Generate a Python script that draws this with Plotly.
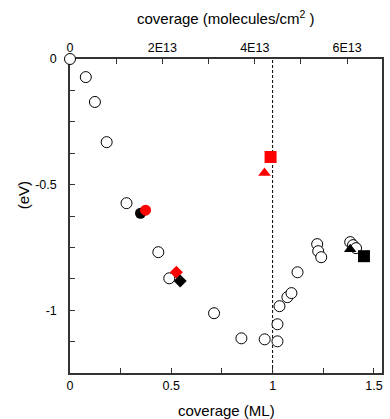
import plotly.graph_objects as go

# ---- data (coverage in ML, energy in eV) ----
open_x = [0.0, 0.078, 0.123, 0.181, 0.279, 0.436, 0.49, 0.711, 0.846, 0.961, 1.024,
          1.024, 1.034, 1.073, 1.093, 1.123, 1.22, 1.225, 1.24, 1.383, 1.397, 1.412]
open_y = [0.0, -0.072, -0.171, -0.331, -0.574, -0.769, -0.873, -1.012, -1.112, -1.116, -1.124,
          -1.056, -0.984, -0.948, -0.932, -0.849, -0.737, -0.765, -0.789, -0.729, -0.741, -0.753]

black_circle_x, black_circle_y = [0.348], [-0.614]
red_circle_x, red_circle_y = [0.373], [-0.602]
red_diamond_x, red_diamond_y = [0.525], [-0.849]
black_diamond_x, black_diamond_y = [0.544], [-0.884]
red_square_x, red_square_y = [0.99], [-0.39]
red_triangle_x, red_triangle_y = [0.96], [-0.454]
black_triangle_x, black_triangle_y = [1.383], [-0.757]
black_square_x, black_square_y = [1.451], [-0.785]

x_ticks = [0, 0.5, 1.0, 1.5]
x_ticktext = ["0", "0.5", "1", "1.5"]
x_minor = [0.25, 0.75, 1.25]
y_ticks = [0, -0.5, -1.0]
y_ticktext = ["0", "-0.5", "-1"]
y_minor = [-0.125, -0.25, -0.375, -0.625, -0.75, -0.875, -1.125]
top_ticks = [0, 2e13, 4e13, 6e13]
top_ticktext = ["0", "2E13", "4E13", "6E13"]
top_minor = [1e13, 3e13, 5e13]

ML_TO_MOLEC = 4.387e13
X_MAX = 1.54

fig = go.Figure()

fig.add_trace(go.Scatter(x=open_x, y=open_y, mode="markers", cliponaxis=False,
                         marker=dict(symbol="circle", size=11, color="white",
                                     line=dict(color="black", width=1)),
                         showlegend=False))

def filled(x, y, sym, color, size):
    fig.add_trace(go.Scatter(x=x, y=y, mode="markers", cliponaxis=False,
                             marker=dict(symbol=sym, size=size, color=color,
                                         line=dict(width=0)),
                             showlegend=False))

filled(black_circle_x, black_circle_y, "circle", "black", 11)
filled(red_circle_x, red_circle_y, "circle", "red", 11)
filled(red_diamond_x, red_diamond_y, "diamond", "red", 10)
filled(black_diamond_x, black_diamond_y, "diamond", "black", 10)
filled(red_square_x, red_square_y, "square", "red", 12)
filled(red_triangle_x, red_triangle_y, "triangle-up", "red", 11)
filled(black_triangle_x, black_triangle_y, "triangle-up", "black", 11)
filled(black_square_x, black_square_y, "square", "black", 12)

# dummy trace for top axis
fig.add_trace(go.Scatter(x=[None], y=[None], xaxis="x2", showlegend=False, hoverinfo="skip"))

axis_common = dict(showgrid=False, zeroline=False, showline=True, linecolor="#333",
                   linewidth=1.5, ticks="inside", ticklen=5, tickcolor="#333",
                   tickfont=dict(family="Liberation Sans, Arial", size=12.5, color="black"),
                   layer="below traces", tickmode="array")

def minor(vals):
    return dict(tickmode="array", tickvals=vals, ticks="inside", ticklen=5,
                tickcolor="#333", showgrid=False)

fig.update_layout(
    width=390, height=419, autosize=False,
    margin=dict(l=70, r=6, t=59, b=46),
    paper_bgcolor="white", plot_bgcolor="white",
    xaxis=dict(range=[0, X_MAX], tickvals=x_ticks, ticktext=x_ticktext,
               minor=minor(x_minor), **axis_common),
    xaxis2=dict(range=[0, X_MAX * ML_TO_MOLEC], overlaying="x", side="top", anchor="y",
                tickvals=top_ticks, ticktext=top_ticktext, minor=minor(top_minor),
                **axis_common),
    yaxis=dict(range=[-1.25, 0], tickvals=y_ticks, ticktext=y_ticktext,
               minor=minor(y_minor), mirror=True, ticklabelstandoff=9, **axis_common),
    shapes=[dict(type="line", xref="x", yref="paper", x0=1.0, x1=1.0, y0=0, y1=1,
                 line=dict(color="black", width=1, dash="3px,2px"), layer="below")],
    annotations=[
        dict(text="coverage (molecules/cm<sup>2</sup> )", xref="paper", yref="paper",
             x=0.5, y=1 + 41 / 314, xanchor="center", yanchor="middle", showarrow=False,
             font=dict(family="Liberation Sans, Arial", size=15, color="black")),
        dict(text="coverage (ML)", xref="paper", yref="paper",
             x=0.5, y=-37 / 314, xanchor="center", yanchor="middle", showarrow=False,
             font=dict(family="Liberation Sans, Arial", size=15, color="black")),
        dict(text="(eV)", xref="paper", yref="paper", textangle=-90,
             x=-47 / 314, y=(373 - 195) / 314, xanchor="center", yanchor="middle",
             showarrow=False,
             font=dict(family="Liberation Sans, Arial", size=15, color="black")),
    ],
)

fig.write_html("out.html")
